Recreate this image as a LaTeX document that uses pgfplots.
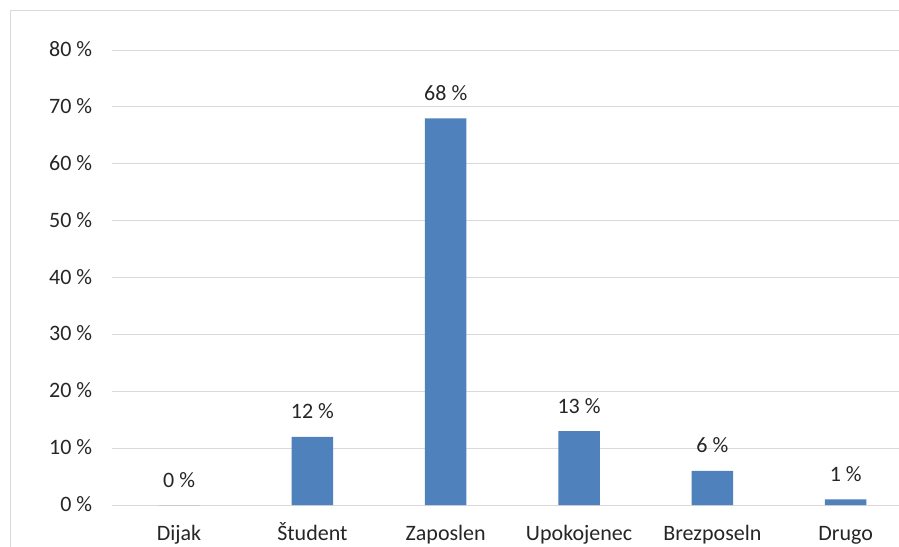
\documentclass[border=0pt]{standalone}
\usepackage{fontspec}
\setmainfont{Carlito}
\usepackage{pgfplots}
\pgfplotsset{compat=1.18}
\definecolor{barblue}{HTML}{4F81BD}
\definecolor{gridgray}{HTML}{D9D9D9}
\definecolor{txt}{HTML}{262626}
\begin{document}
\begin{tikzpicture}[x=1pt,y=1pt]
\useasboundingbox (0,0) rectangle (899,546);
\fill[white] (0,0) rectangle (899,546);
\draw[gridgray, line width=1pt] (10,-5) -- (10,535) -- (905,535);
\begin{axis}[
  at={(112.4pt,41pt)}, anchor=south west,
  scale only axis, width=800pt, height=455pt,
  xmin=-0.5, xmax=5.5, ymin=0, ymax=80,
  ytick={0,10,...,80},
  xtick={0,...,5},
  xticklabels={Dijak,Študent,Zaposlen,Upokojenec,Brezposeln,Drugo},
  ymajorgrids, grid style={gridgray, line width=1pt},
  axis line style={draw=none},
  major tick length=0pt,
  tick label style={font=\fontsize{22pt}{26pt}\selectfont, text=txt},
  yticklabel={\pgfmathprintnumber{\tick}~\%},
  yticklabel style={anchor=base east, inner sep=0pt, xshift=-20pt, yshift=-6.5pt},
  xticklabel style={anchor=base, inner sep=0pt, yshift=-35pt},
  ybar, bar width=41.5pt,
  nodes near coords={\pgfmathprintnumber{\pgfplotspointmeta}~\%},
  nodes near coords style={anchor=base, inner sep=0pt, yshift=18pt, text=txt, font=\fontsize{22pt}{26pt}\selectfont},
  /pgf/number format/assume math mode=true,
]
\addplot[fill=barblue, draw=none] coordinates {(0,0) (1,12) (2,68) (3,13) (4,6) (5,1)};
\end{axis}
\end{tikzpicture}
\end{document}
